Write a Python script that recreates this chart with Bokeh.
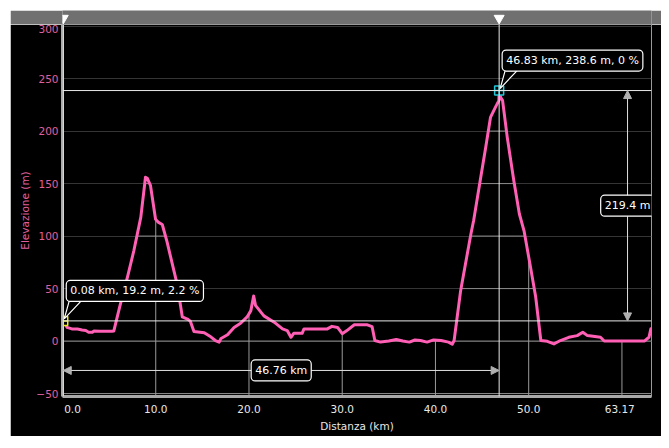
import numpy as np
from bokeh.plotting import figure
from bokeh.layouts import column
from bokeh.models import (Range1d, FixedTicker, Span, Label, Arrow, NormalHead)
from bokeh.embed import file_html
from bokeh.resources import INLINE

# ---------------- data ----------------
dist_km = [0.08, 0.5, 1.0, 1.6, 2.1, 2.5, 2.8, 3.2, 3.35, 4.0, 5.3, 5.5, 6.2, 7.0, 7.65,
           8.4, 8.9, 9.1, 9.44, 9.98, 10.3, 10.7, 11.2, 11.6, 12.3, 12.85, 13.4, 13.7,
           14.1, 15.2, 15.9, 16.4, 16.8, 17.0, 17.7, 18.4, 19.1, 19.8, 20.2, 20.5, 20.7,
           21.6, 22.7, 23.6, 24.1, 24.5, 24.8, 25.7, 25.9, 28.4, 28.9, 29.5, 30.0, 30.5,
           31.3, 32.7, 33.2, 33.5, 34.1, 35.0, 35.8, 36.5, 37.2, 37.8, 38.4, 39.1, 39.8,
           40.6, 41.4, 41.8, 42.0, 42.7, 43.8, 44.1, 44.8, 45.4, 45.9, 46.45, 46.8, 46.83,
           47.0, 47.2, 47.7, 48.4, 49.0, 49.5, 50.2, 50.75, 51.3, 52.0, 52.7, 53.4, 54.3,
           55.2, 55.8, 56.3, 57.7, 58.1, 59.9, 62.4, 62.9, 63.1, 63.17]
elev_m = [19.2, 13, 11.6, 11.5, 10.6, 10, 8.4, 8.4, 9.5, 9.3, 9.3, 9.5, 35, 62, 86,
          118, 156, 155, 148, 116, 113, 111, 95, 80, 54, 23, 21, 19,
          9, 8, 4, 0.5, -1, 2.5, 6, 13, 17, 23, 29, 43, 34,
          24, 18, 11.6, 10, 3.6, 7.4, 7.4, 11.6, 11.6, 14, 13, 7, 10,
          15.5, 15.5, 13.8, 0.5, -1, 0, 1.5, 0, -1, 1, 0.5, -1, 1.1,
          0.5, -1, -3, 0.5, 48, 102, 115, 153, 185, 213, 223, 229, 238.6,
          232, 229, 194, 153, 121, 105, 70, 42, 0.5, -0.2, -2.7, 0.5, 3.6,
          5.2, 8.4, 5.2, 3.6, 0, 0, 0, 3.6, 11.6, 7]

cursor_km = [0.08, 46.83]
cursor_elev = [19.2, 238.6]
cursor_text = ["0.08 km, 19.2 m, 2.2 %", "46.83 km, 238.6 m, 0 %"]
dist_text = "46.76 km"
climb_text = "219.4 m"

x_ticks = [0, 10, 20, 30, 40, 50, 63.17]
x_tick_labels = ["0.0", "10.0", "20.0", "30.0", "40.0", "50.0", "63.17"]
x_grid = [10, 20, 30, 40, 50, 60]
y_ticks = [-50, 0, 50, 100, 150, 200, 250, 300]

X_MIN, X_MAX = 0, 63.17
Y_MIN, Y_MAX = -52.8, 301.5
arrow_y = -28
arrow_x = 60.6

PINK = "#ff5fb4"
AXPINK = "#e0609e"
FONT = "DejaVu Sans"

x_range = Range1d(X_MIN, X_MAX)

# ---------------- top bar ----------------
top = figure(width=651, height=14, x_range=x_range, y_range=Range1d(0, 1),
             x_axis_location=None, y_axis_location=None, toolbar_location=None,
             output_backend="svg", min_border_left=52, min_border_right=10,
             min_border_top=0, min_border_bottom=0)
top.background_fill_color = "#707070"
top.border_fill_color = "#707070"
top.outline_line_color = None
top.grid.visible = False
top.scatter(x=cursor_km, y=[0.45, 0.45], marker="inverted_triangle", size=10,
            fill_color="white", line_color="white")

# ---------------- main figure ----------------
p = figure(width=651, height=412, x_range=x_range, y_range=Range1d(Y_MIN, Y_MAX),
           toolbar_location=None, output_backend="svg",
           min_border_left=52, min_border_right=10, min_border_top=0, min_border_bottom=40)
p.background_fill_color = "black"
p.border_fill_color = "black"
p.outline_line_color = "#9a9a9a"
p.outline_line_width = 1

p.xgrid.grid_line_color = None
p.ygrid.ticker = FixedTicker(ticks=y_ticks)
p.ygrid.grid_line_color = "#353535"
p.ygrid.grid_line_width = 1

xa = p.xaxis[0]
xa.ticker = FixedTicker(ticks=x_ticks)
nb = "\u00a0"
overrides = {t: l for t, l in zip(x_ticks, x_tick_labels)}
overrides[x_ticks[0]] = nb * 6 + x_tick_labels[0]
overrides[x_ticks[-1]] = x_tick_labels[-1] + nb * 8
xa.major_label_overrides = overrides
xa.axis_label = "Distanza (km)"
xa.axis_line_color = "#a8a8a8"
xa.axis_line_width = 3
xa.major_tick_line_color = None
xa.minor_tick_line_color = None
xa.major_tick_out = 0
xa.major_tick_in = 0
xa.minor_tick_out = 0
xa.minor_tick_in = 0
xa.major_label_text_color = "#e8e8e8"
xa.major_label_text_font = FONT
xa.major_label_text_font_size = "10.5px"
xa.major_label_standoff = 6
xa.axis_label_text_color = "#e8e8e8"
xa.axis_label_text_font = FONT
xa.axis_label_text_font_size = "10.5px"
xa.axis_label_text_font_style = "normal"
xa.axis_label_standoff = 2

ya = p.yaxis[0]
ya.ticker = FixedTicker(ticks=y_ticks)
ya.axis_label = "Elevazione (m)"
ya.axis_line_color = "#a8a8a8"
ya.axis_line_width = 3
ya.major_tick_line_color = None
ya.minor_tick_line_color = None
ya.major_tick_out = 0
ya.major_tick_in = 0
ya.minor_tick_out = 0
ya.minor_tick_in = 0
ya.major_label_text_color = AXPINK
ya.major_label_text_font = FONT
ya.major_label_text_font_size = "10.5px"
ya.major_label_standoff = 4
ya.axis_label_text_color = AXPINK
ya.axis_label_text_font = FONT
ya.axis_label_text_font_size = "10.5px"
ya.axis_label_text_font_style = "normal"
ya.axis_label_standoff = 2

# light grid segments below the profile
km = np.array(dist_km, dtype=float)
el = np.array(elev_m, dtype=float)
xf = np.linspace(km[0], km[-1], 6000)
yf = np.interp(xf, km, el)
hx0, hx1, hy = [], [], []
for g in y_ticks[:-1]:
    mask = (yf > g).astype(int)
    d = np.diff(np.concatenate([[0], mask, [0]]))
    s = np.where(d == 1)[0]
    e = np.where(d == -1)[0] - 1
    for a, b in zip(s, e):
        hx0.append(xf[a]); hx1.append(xf[b]); hy.append(g)
p.segment(x0=hx0, y0=hy, x1=hx1, y1=hy, line_color="#8a8a8a", line_width=1)
vy1 = list(np.interp(x_grid, km, el))
p.segment(x0=x_grid, y0=[Y_MIN] * len(x_grid), x1=x_grid, y1=vy1,
          line_color="#9a9a9a", line_width=1)

# cursor lines
for v in cursor_elev:
    p.add_layout(Span(location=v, dimension="width", line_color="#e8e8e8", line_width=1))
for v in cursor_km:
    p.add_layout(Span(location=v, dimension="height", line_color="#e8e8e8", line_width=1))

# profile
p.line(dist_km, elev_m, line_color=PINK, line_width=3, line_join="round")

# cursor markers
p.scatter(x=cursor_km[:1], y=cursor_elev[:1], marker="square_cross", size=9,
          line_color="#e8e820", fill_color="black", line_width=1.5)
p.scatter(x=cursor_km[1:], y=cursor_elev[1:], marker="square_cross", size=9,
          line_color="#20c8d8", fill_color="black", line_width=1.5)

# measurement arrows
head = dict(size=8, fill_color="#b0b0b0", line_color="#b0b0b0")
p.add_layout(Arrow(start=NormalHead(**head), end=NormalHead(**head),
                   x_start=cursor_km[0], y_start=arrow_y, x_end=cursor_km[1], y_end=arrow_y,
                   line_color="#e0e0e0", line_width=1))
p.add_layout(Arrow(start=NormalHead(**head), end=NormalHead(**head),
                   x_start=arrow_x, y_start=cursor_elev[0], x_end=arrow_x, y_end=cursor_elev[1],
                   line_color="#e0e0e0", line_width=1))

# callout tails (pixel offsets converted to data units)
kx = (X_MAX - X_MIN) / 589.0
ky = (Y_MAX - Y_MIN) / 372.0
for cx, cy in zip(cursor_km, cursor_elev):
    tx = [cx + 1 * kx, cx + 6 * kx, cx + 18 * kx]
    ty = [cy + 2 * ky, cy + 20 * ky, cy + 20 * ky]
    p.patch(tx, ty, fill_color="black", line_color="white", line_width=1.2)

lab = dict(text_color="white", text_font=FONT, text_font_size="11px",
           background_fill_color="black", border_line_color="white", border_line_width=1.2,
           padding=4, border_radius=4, text_baseline="middle")
for cx, cy, t in zip(cursor_km, cursor_elev, cursor_text):
    p.add_layout(Label(x=cx, y=cy, x_offset=3, y_offset=30, text=t, text_align="left", **lab))
p.add_layout(Label(x=(cursor_km[0] + cursor_km[1]) / 2, y=arrow_y, text=dist_text,
                   text_align="center", **lab))
p.add_layout(Label(x=arrow_x, y=(cursor_elev[0] + cursor_elev[1]) / 2, text=climb_text,
                   text_align="center", **lab))

layout = column(top, p, spacing=0, margin=(10, 8, 2, 10))
open("out.html", "w").write(file_html(layout, INLINE))
